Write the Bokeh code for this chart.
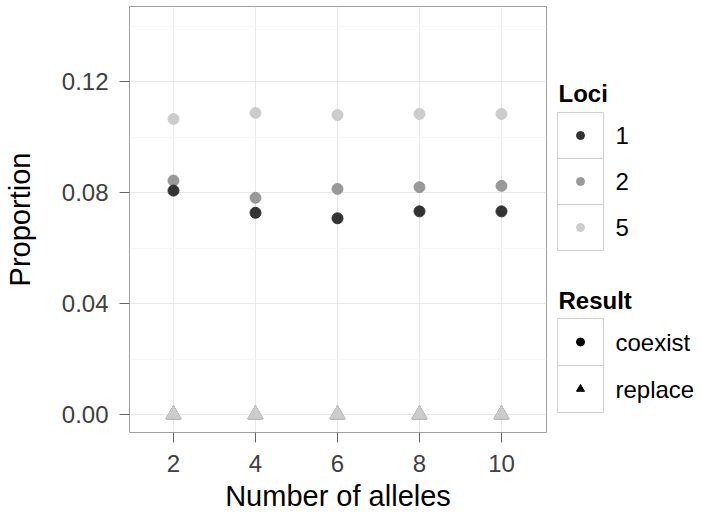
from bokeh.plotting import figure
from bokeh.layouts import row
from bokeh.models import Range1d, FixedTicker, PrintfTickFormatter
from bokeh.core.properties import value
from bokeh.embed import file_html
from bokeh.resources import INLINE

# ---------------- data ----------------
alleles = [2, 4, 6, 8, 10]
loci_labels = ["1", "2", "5"]
loci_colors = ["#333333", "#999999", "#cccccc"]
coexist_1 = [0.0807, 0.0727, 0.0707, 0.0732, 0.0732]
coexist_2 = [0.0843, 0.0781, 0.0813, 0.0819, 0.0824]
coexist_5 = [0.1065, 0.1087, 0.1079, 0.1083, 0.1083]
replace_1 = [0.0, 0.0, 0.0, 0.0, 0.0]
replace_2 = [0.0, 0.0, 0.0, 0.0, 0.0]
replace_5 = [0.0, 0.0, 0.0, 0.0, 0.0]
result_labels = ["coexist", "replace"]
result_markers = ["circle", "triangle"]
y_ticks = [0.0, 0.04, 0.08, 0.12]
y_minor = [0.02, 0.06, 0.10, 0.14]
x_ticks = [2, 4, 6, 8, 10]

FONT = "Liberation Sans"
TOP, BOTTOM = 6, 82          # borders (px) shared by both panels

# ---------------- main plot ----------------
p = figure(width=547, height=514, output_backend="svg", toolbar_location=None,
           x_range=Range1d(0.9268, 11.098), y_range=Range1d(-0.006486, 0.14703),
           min_border_left=129, min_border_right=1, min_border_top=TOP, min_border_bottom=BOTTOM,
           background_fill_color="white", border_fill_color="white")
p.outline_line_color = "#a0a0a0"
p.outline_line_width = 1

p.xaxis.ticker = FixedTicker(ticks=x_ticks)
p.yaxis.ticker = FixedTicker(ticks=y_ticks, minor_ticks=y_minor)
p.yaxis.formatter = PrintfTickFormatter(format="%.2f")

for ax in (p.xaxis, p.yaxis):
    ax.axis_line_color = None
    ax.major_tick_line_color = "#666666"
    ax.major_tick_out = 10
    ax.major_tick_in = 0
    ax.minor_tick_line_color = None
    ax.major_label_text_font = FONT
    ax.major_label_text_font_size = "24px"
    ax.major_label_text_color = "#404040"
    ax.axis_label_text_font = FONT
    ax.axis_label_text_font_size = "29px"
    ax.axis_label_text_font_style = "normal"
    ax.axis_label_text_color = "black"

p.xaxis.axis_label = "Number of alleles"
p.yaxis.axis_label = "Proportion"
p.xaxis.major_label_standoff = 12
p.xaxis.axis_label_standoff = 5
p.yaxis.major_label_standoff = 11
p.yaxis.axis_label_standoff = 23

p.xgrid.grid_line_color = "#e8e8e8"
p.ygrid.grid_line_color = "#e8e8e8"
p.ygrid.minor_grid_line_color = "#f6f6f6"

pt_size = 11
tri_size = 15
# replace (triangles), drawn 1, 2, 5
for ys, col in zip([replace_1, replace_2, replace_5], loci_colors):
    p.scatter(alleles, ys, marker="triangle", size=tri_size, fill_color=col, line_color=col)
# coexist (circles)
for ys, col in zip([coexist_5, coexist_2, coexist_1], loci_colors[::-1]):
    p.scatter(alleles, ys, marker="circle", size=pt_size, fill_color=col, line_color=col)

# ---------------- legend panel (coordinates = page pixels) ----------------
lg = figure(width=155, height=514, output_backend="svg", toolbar_location=None,
            x_range=Range1d(547, 702), y_range=Range1d(514 - BOTTOM, TOP),
            min_border_left=0, min_border_right=0, min_border_top=TOP, min_border_bottom=BOTTOM,
            background_fill_color="white", border_fill_color="white")
lg.axis.visible = False
lg.grid.visible = False
lg.outline_line_color = None

key_x0 = 557
key_w = 46
label_x = 615
key_border = "#d0d0d0"

def draw_legend(title, title_y, top, key_h, labels, colors, markers):
    lg.text([key_x0 + 1], [title_y], text=[title], text_font=value(FONT),
            text_font_size="24px", text_font_style="bold", text_baseline="middle",
            text_color="black")
    n = len(labels)
    tops = [top + i * key_h for i in range(n)]
    lg.quad(left=[key_x0] * n, right=[key_x0 + key_w] * n, top=tops,
            bottom=[t + key_h for t in tops], fill_color="white", line_color=key_border)
    cy = [t + key_h / 2 for t in tops]
    cx = [key_x0 + key_w / 2] * n
    for xx, yy, c, m in zip(cx, cy, colors, markers):
        lg.scatter([xx], [yy], marker=m, size=8, fill_color=c, line_color=c)
    lg.text([label_x] * n, cy, text=labels, text_font=value(FONT), text_font_size="24px",
            text_baseline="middle", text_color="black")

draw_legend("Loci", 93, 112, 46, loci_labels, loci_colors, ["circle"] * 3)
draw_legend("Result", 300, 318, 47, result_labels, ["black", "black"], result_markers)

layout = row(p, lg)
open("out.html", "w").write(file_html(layout, INLINE))
